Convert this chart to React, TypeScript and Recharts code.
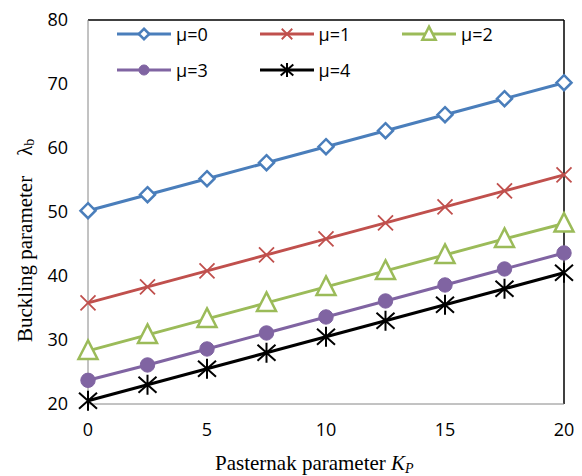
import { Label, Legend, Line, LineChart, ReferenceLine, XAxis, YAxis } from 'recharts';

// Pasternak parameter K_P along the x axis
const kp = [0, 2.5, 5, 7.5, 10, 12.5, 15, 17.5, 20];

// buckling parameter for each μ
const mu0 = [50.2, 52.7, 55.2, 57.7, 60.2, 62.7, 65.2, 67.7, 70.2];
const mu1 = [35.8, 38.3, 40.8, 43.3, 45.8, 48.3, 50.8, 53.3, 55.8];
const mu2 = [28.3, 30.8, 33.3, 35.8, 38.3, 40.8, 43.3, 45.8, 48.2];
const mu3 = [23.7, 26.1, 28.6, 31.1, 33.6, 36.1, 38.6, 41.1, 43.6];
const mu4 = [20.5, 23.0, 25.5, 28.0, 30.5, 33.0, 35.5, 38.0, 40.5];

const xTicks = [0, 5, 10, 15, 20];
const yTicks = [20, 30, 40, 50, 60, 70, 80];

type MarkerKind = 'diamond' | 'cross' | 'triangle' | 'circle' | 'star';

interface SeriesConfig {
  key: string;
  label: string;
  color: string;
  marker: MarkerKind;
}

const SERIES: SeriesConfig[] = [
  { key: 'mu0', label: 'μ=0', color: '#4a7ebb', marker: 'diamond' },
  { key: 'mu1', label: 'μ=1', color: '#c0504d', marker: 'cross' },
  { key: 'mu2', label: 'μ=2', color: '#9bbb59', marker: 'triangle' },
  { key: 'mu3', label: 'μ=3', color: '#8064a2', marker: 'circle' },
  { key: 'mu4', label: 'μ=4', color: '#000000', marker: 'star' },
];

const data = kp.map((k, i) => ({
  kp: k,
  mu0: mu0[i],
  mu1: mu1[i],
  mu2: mu2[i],
  mu3: mu3[i],
  mu4: mu4[i],
}));

const TICK_FONT = '"Open Sans", "Liberation Sans", sans-serif';
const TITLE_FONT = '"Liberation Serif", "Times New Roman", serif';

function Marker({ cx, cy, kind, color, s = 1 }: { cx: number; cy: number; kind: MarkerKind; color: string; s?: number }) {
  if (cx == null || cy == null) return null;
  switch (kind) {
    case 'diamond': {
      const r = 7.5 * s;
      return (
        <path
          d={`M${cx},${cy - r}L${cx + r},${cy}L${cx},${cy + r}L${cx - r},${cy}Z`}
          fill="#fff"
          stroke={color}
          strokeWidth={2.5}
        />
      );
    }
    case 'cross': {
      const r = 7.5 * s;
      return (
        <path
          d={`M${cx - r},${cy - r}L${cx + r},${cy + r}M${cx - r},${cy + r}L${cx + r},${cy - r}`}
          stroke={color}
          strokeWidth={1.8}
          fill="none"
        />
      );
    }
    case 'triangle': {
      const r = 9.5 * s;
      return (
        <path
          d={`M${cx},${cy - r * 1.1}L${cx + r},${cy + r * 0.85}L${cx - r},${cy + r * 0.85}Z`}
          fill="#fff"
          stroke={color}
          strokeWidth={2.5}
        />
      );
    }
    case 'circle':
      return <circle cx={cx} cy={cy} r={7.2 * s} fill={color} stroke={color} />;
    case 'star': {
      const r = 10 * s;
      const dx = 9 * s;
      const dy = 8 * s;
      return (
        <path
          d={`M${cx - dx},${cy - dy}L${cx + dx},${cy + dy}M${cx - dx},${cy + dy}L${cx + dx},${cy - dy}M${cx},${cy - r}L${cx},${cy + r}`}
          stroke={color}
          strokeWidth={2}
          fill="none"
        />
      );
    }
  }
  return null;
}

// legend sits inside the plot area, so its wrapper has no height of its own
function LegendBox() {
  return (
    <div style={{ position: 'relative', width: 476, height: 0 }}>
      {SERIES.map((s, i) => {
        const col = i % 3;
        const row = Math.floor(i / 3);
        return (
          <div
            key={s.key}
            style={{
              position: 'absolute',
              left: 29 + col * 142.5,
              top: 4 + row * 36,
              display: 'flex',
              alignItems: 'center',
              height: 20,
              whiteSpace: 'nowrap',
            }}
          >
            <svg width={54} height={20} style={{ display: 'block' }}>
              <line x1={0} y1={10} x2={54} y2={10} stroke={s.color} strokeWidth={3} />
              <Marker cx={27} cy={10} kind={s.marker} color={s.color} s={0.7} />
            </svg>
            <span style={{ marginLeft: 5, fontFamily: TICK_FONT, fontSize: 18, color: '#000', lineHeight: '20px' }}>
              {s.label}
            </span>
          </div>
        );
      })}
    </div>
  );
}

function XTitle() {
  return (
    <text x={215} y={470} fontFamily={TITLE_FONT} fontSize={21} fill="#000">
      Pasternak parameter{' '}
      <tspan fontStyle="italic">K</tspan>
      <tspan fontStyle="italic" fontSize={14} dy={3}>
        P
      </tspan>
    </text>
  );
}

function YTitle() {
  return (
    <text
      x={25}
      y={342}
      transform="rotate(-90, 25, 342)"
      fontFamily={TITLE_FONT}
      fontSize={21}
      fill="#000"
      dominantBaseline="central"
    >
      Buckling parameter
      <tspan dx={20}>λ</tspan>
      <tspan fontSize={14} dy={4}>
        b
      </tspan>
    </text>
  );
}

export default function App() {
  return (
    <div style={{ position: 'absolute', left: 0, top: 0, width: 582, height: 476, background: '#fff' }}>
      <LineChart width={582} height={476} data={data} margin={{ top: 20, right: 18, left: 0, bottom: 0 }}>
        <XAxis
          dataKey="kp"
          type="number"
          domain={[0, 20]}
          ticks={xTicks}
          height={72}
          stroke="#868686"
          tickLine={false}
          tickSize={0}
          tickMargin={19}
          tick={{ fill: '#000', fontSize: 18, fontFamily: TICK_FONT }}
        >
          <Label content={<XTitle />} />
        </XAxis>
        <YAxis
          type="number"
          domain={[20, 80]}
          ticks={yTicks}
          width={88}
          stroke="#868686"
          tickLine={false}
          tickSize={0}
          tickMargin={20}
          tick={{ fill: '#000', fontSize: 18, fontFamily: TICK_FONT }}
        >
          <Label content={<YTitle />} />
        </YAxis>
        <ReferenceLine y={80} stroke="#000" strokeWidth={1.5} ifOverflow="visible" />
        <ReferenceLine x={20} stroke="#000" strokeWidth={1.5} ifOverflow="visible" />
        <Legend content={<LegendBox />} height={0} wrapperStyle={{ top: 20, left: 88, width: 476, height: 0 }} />
        {SERIES.map((s) => (
          <Line
            key={s.key}
            type="linear"
            dataKey={s.key}
            name={s.label}
            stroke={s.color}
            strokeWidth={3}
            isAnimationActive={false}
            dot={(p: any) => <Marker key={`${s.key}-${p.index}`} cx={p.cx} cy={p.cy} kind={s.marker} color={s.color} />}
            activeDot={false}
          />
        ))}
      </LineChart>
    </div>
  );
}
